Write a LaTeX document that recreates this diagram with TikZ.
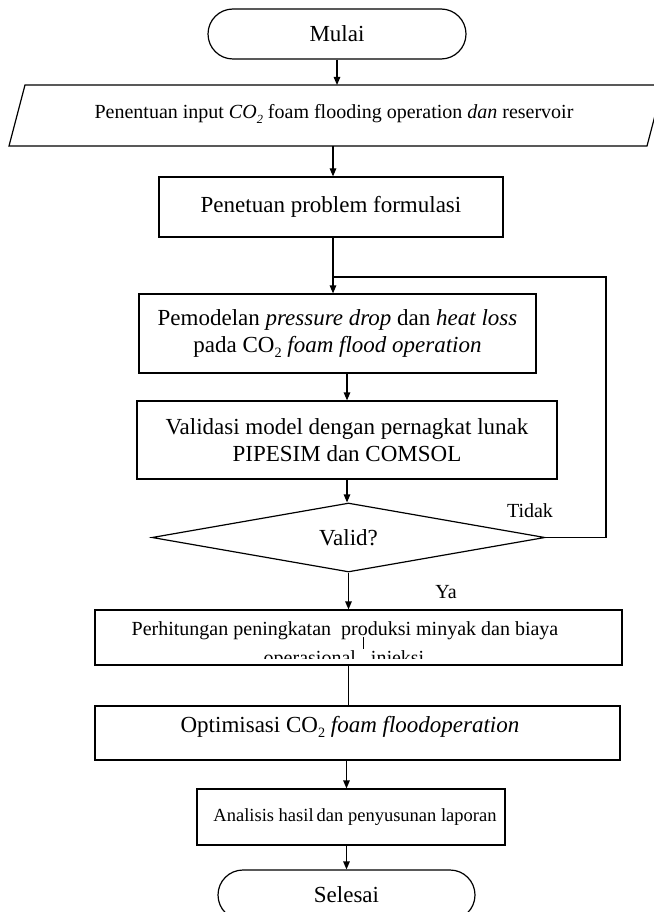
\documentclass[tikz,border=0pt]{standalone}
\usepackage{fontspec}
\setmainfont{Liberation Serif}
\usetikzlibrary{arrows.meta,shapes.geometric}
\newcommand\subtwo{\raisebox{-0.45ex}{\scalebox{0.62}{2}}}
\begin{document}
\begin{tikzpicture}[x=1pt,y=-1pt,line width=1.2pt,
  arr/.style={-{Triangle[length=8pt,width=6.5pt]}},
  box/.style={draw,rectangle,inner sep=0pt},
  term/.style={draw,rectangle,rounded corners=25pt,inner sep=0pt},
  big/.style={font=\fontsize{23}{27}\selectfont},
  small/.style={font=\fontsize{20}{23}\selectfont},
  lbl/.style={inner sep=0pt,font=\fontsize{20}{23}\selectfont}]
\useasboundingbox (0,0) rectangle (653,912);

% start
\node[term,big,minimum width=258pt,minimum height=50pt] (mulai) at (337,34) {Mulai};

% input parallelogram
\draw (25,85) -- (663,85) -- (647,146) -- (9,146) -- cycle;
\coordinate (inTop) at (337,85);
\coordinate (inBot) at (333,146);
\node[small,inner sep=0pt] (input) at (334,114) {Penentuan input \textit{CO\subtwo} foam flooding operation \textit{dan} reservoir};

% problem formulation
\node[box,big,minimum width=344pt,minimum height=60pt] (prob) at (331,207) {Penetuan problem formulasi};

% modelling
\node[box,big,align=center,minimum width=397pt,minimum height=79pt] (model) at (337.5,333.5)
  {Pemodelan \textit{pressure drop} dan \textit{heat loss}\\pada CO\subtwo\ \textit{foam flood operation}};

% validation
\node[box,big,align=center,minimum width=420pt,minimum height=78pt] (valid) at (347,440)
  {Validasi model dengan pernagkat lunak\\PIPESIM dan COMSOL};

% decision
\node[draw,diamond,inner sep=0pt,minimum width=393pt,minimum height=69pt,aspect=5.7,big] (dia) at (348.5,537.5) {Valid?};
\node[lbl] (tidak) at (530,511) {Tidak};
\node[lbl] (ya) at (446,592) {Ya};

% calculation
\node[box,minimum width=527pt,minimum height=55pt] (calc) at (358.5,637.5) {};
\node[small,inner sep=0pt] (calcTxt) at (345,631) {Perhitungan peningkatan\ \ produksi minyak dan biaya};
\begin{scope}
  \clip (100,640) rectangle (620,658.5);
  \node[small,inner sep=0pt,anchor=base] (calcTxt2) at (344,664) {operasional\ \ \ injeksi};
\end{scope}
\coordinate (strayA) at (363,637);
\coordinate (strayB) at (363,649);
\draw[line width=0.9pt] (strayA) -- (strayB);

% optimisation
\node[box,minimum width=525pt,minimum height=54pt] (opt) at (357.5,733) {};
\node[big,inner sep=0pt] (optTxt) at (350,727) {Optimisasi CO\subtwo\ \textit{foam floodoperation}};

% analysis
\node[box,minimum width=308pt,minimum height=56pt] (ana) at (351,817) {};
\node[inner sep=0pt,font=\fontsize{18.5}{22}\selectfont] (anaTxt) at (355,817) {Analisis hasil\,dan penyusunan laporan};

% end
\node[term,big,minimum width=257pt,minimum height=50pt] (selesai) at (346.5,895) {Selesai};

% connectors
\draw[arr] (mulai.south) -- (inTop);
\draw[arr] (inBot) -- (inBot |- prob.north);
\draw[arr] (inBot |- prob.south) -- (inBot |- model.north);
\coordinate (fbc) at (606,277);
\coordinate (join) at (333,277);
\draw (dia.east) -| (fbc) -- (join);
\draw[arr] (valid.north |- model.south) -- (valid.north);
\draw[arr] (valid.south) -- (valid.south |- dia.north);
\draw[arr] (dia.south) -- (dia.south |- calc.north);
\draw (dia.south |- calc.south) -- (dia.south |- opt.north);
\draw[arr] (selesai.north |- opt.south) -- (selesai.north |- ana.north);
\draw[arr] (selesai.north |- ana.south) -- (selesai.north);
\end{tikzpicture}
\end{document}
